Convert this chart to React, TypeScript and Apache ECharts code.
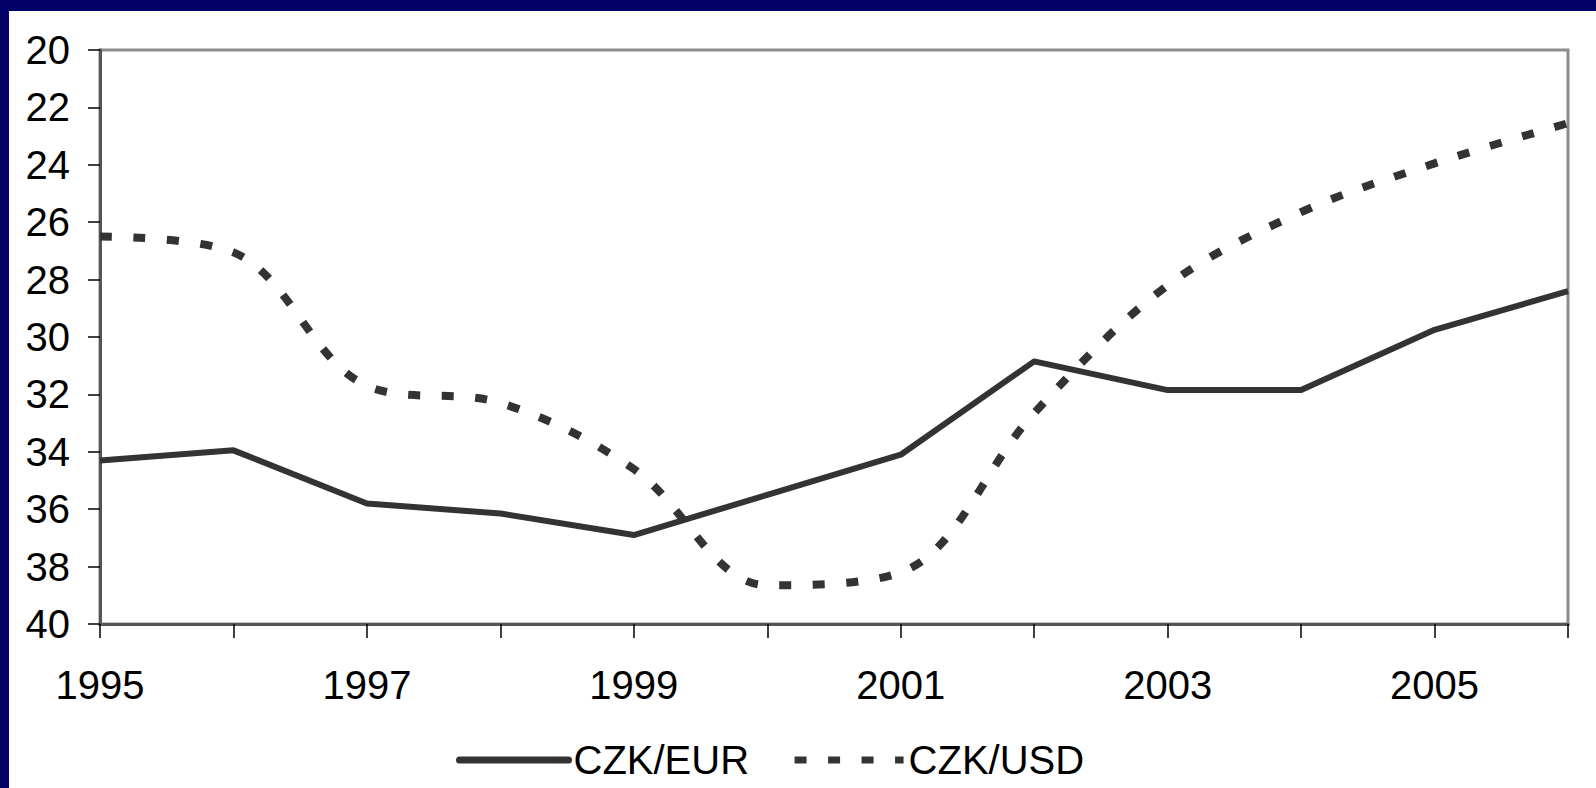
import React, { useEffect, useRef } from "react";
import * as echarts from "echarts";

const years = ["1995", "1996", "1997", "1998", "1999", "2000", "2001", "2002", "2003", "2004", "2005", "2006"];
const czkEur = [34.3, 33.95, 35.8, 36.15, 36.9, 35.5, 34.1, 30.85, 31.85, 31.85, 29.75, 28.4];
const czkUsd = [26.5, 27.05, 31.7, 32.3, 34.6, 38.65, 38.2, 32.65, 28.2, 25.65, 23.95, 22.55];
const yTicks = { min: 20, max: 40, interval: 2 };

const FONT = "'Liberation Sans Narrow', 'Arial Narrow', 'Liberation Sans', Arial, sans-serif";
const DASH = [12, 21.5];

export default function App() {
  const ref = useRef<HTMLDivElement>(null);
  useEffect(() => {
    if (!ref.current) return;
    const chart = echarts.init(ref.current, null, { renderer: "svg" });
    chart.setOption({
      animation: false,
      backgroundColor: "#ffffff",
      textStyle: { fontFamily: FONT },
      graphic: [
        { type: "rect", shape: { x: 0, y: 0, width: 1596, height: 11 }, style: { fill: "#000066" }, silent: true },
        { type: "rect", shape: { x: 0, y: 0, width: 9, height: 788 }, style: { fill: "#000066" }, silent: true },
      ],
      grid: {
        left: 100,
        top: 50,
        right: 28,
        bottom: 164,
        show: true,
        borderColor: "#8c8c8c",
        borderWidth: 3,
        backgroundColor: "transparent",
      },
      legend: {
        left: 456,
        top: 740,
        padding: 0,
        itemWidth: 109,
        itemHeight: 14,
        itemGap: 42,
        itemStyle: { color: "transparent", borderWidth: 0, opacity: 0 },
        textStyle: { fontFamily: FONT, fontSize: 40, color: "#000", lineHeight: 40 },
        data: [
          { name: "CZK/EUR", lineStyle: { width: 7, cap: "round", type: "solid", color: "#333333" } },
          { name: "CZK/USD", lineStyle: { width: 7, cap: "butt", type: DASH, color: "#333333" } },
        ],
      },
      xAxis: {
        type: "category",
        data: years,
        boundaryGap: false,
        axisLine: { lineStyle: { color: "#555", width: 3 } },
        axisTick: { show: true, interval: 0, length: 14, lineStyle: { color: "#000", width: 1.5 } },
        axisLabel: {
          interval: 1,
          margin: 41,
          fontSize: 40,
          lineHeight: 40,
          color: "#000",
          fontFamily: FONT,
        },
        splitLine: { show: false },
      },
      yAxis: {
        type: "value",
        inverse: true,
        min: yTicks.min,
        max: yTicks.max,
        interval: yTicks.interval,
        axisLine: { show: true, lineStyle: { color: "#555", width: 3 } },
        axisTick: { show: true, length: 12, lineStyle: { color: "#000", width: 1.5 } },
        axisLabel: { margin: 30, fontSize: 40, color: "#000", fontFamily: FONT },
        splitLine: { show: false },
      },
      series: [
        {
          name: "CZK/EUR",
          type: "line",
          data: czkEur,
          symbol: "none",
          lineStyle: { color: "#333333", width: 6, cap: "butt", join: "round" },
          itemStyle: { color: "#333333" },
        },
        {
          name: "CZK/USD",
          type: "line",
          data: czkUsd,
          symbol: "none",
          smooth: 0.35,
          lineStyle: { color: "#333333", width: 8, type: DASH, cap: "butt" },
          itemStyle: { color: "#333333" },
        },
      ],
    });
    return () => chart.dispose();
  }, []);
  return (
    <div
      ref={ref}
      style={{ position: "fixed", left: 0, top: 0, width: 1596, height: 788 }}
    />
  );
}
